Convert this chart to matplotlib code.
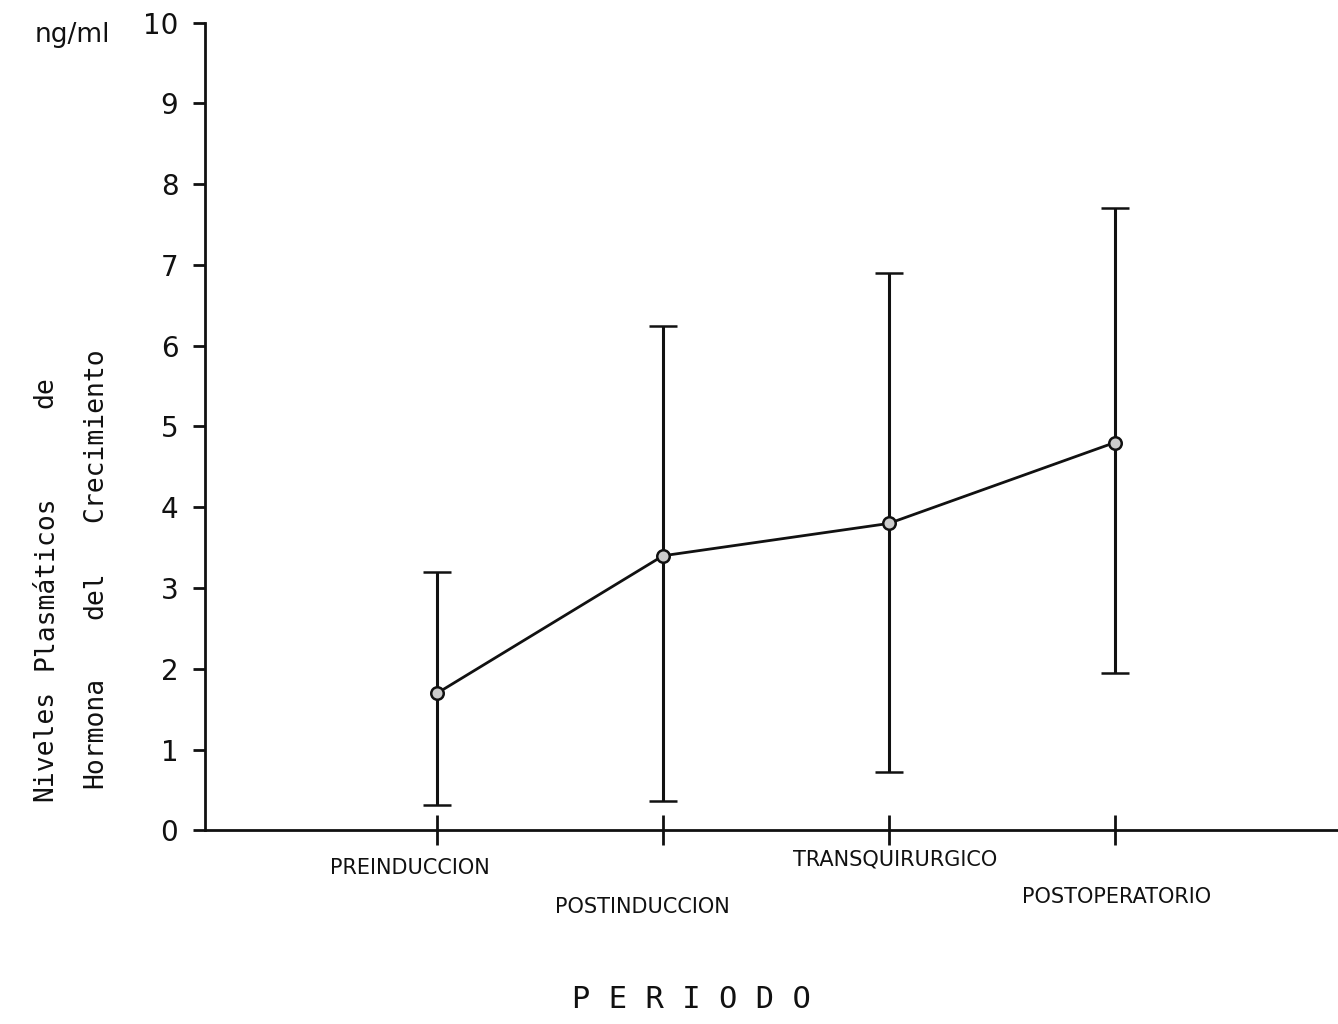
import matplotlib
matplotlib.use('Agg')
import matplotlib.pyplot as plt
import matplotlib.transforms as mtransforms

# ==============================================================================

periods = ["PREINDUCCION", "POSTINDUCCION", "TRANSQUIRURGICO", "POSTOPERATORIO"]
x_pos = [1, 2, 3, 4]
means = [1.7, 3.4, 3.8, 4.8]
upper = [3.2, 6.25, 6.9, 7.7]
lower = [0.32, 0.36, 0.72, 1.95]
y_ticks = [0, 1, 2, 3, 4, 5, 6, 7, 8, 9, 10]

ink = '#111111'

fig = plt.figure(figsize=(13.38, 10.24), dpi=100)
ax = fig.add_axes([0.153, 0.189, 0.847, 0.789])

err_lo = [m - l for m, l in zip(means, lower)]
err_hi = [u - m for m, u in zip(means, upper)]
ax.errorbar(x_pos, means, yerr=[err_lo, err_hi], color=ink, lw=2,
            elinewidth=2.2, capsize=10, capthick=2.2,
            marker='o', ms=9, mfc='#cccccc', mec=ink, mew=1.8)

ax.set_xlim(-0.03, 4.99)
ax.set_ylim(0, 10)

for side in ['top', 'right']:
    ax.spines[side].set_visible(False)
for side in ['left', 'bottom']:
    ax.spines[side].set_color(ink)
    ax.spines[side].set_linewidth(2)

ax.set_yticks(y_ticks)
ax.set_yticklabels([str(t) for t in y_ticks])
ax.tick_params(axis='y', direction='out', length=9, width=2, colors=ink,
               labelsize=20, pad=10)
ax.set_xticks(x_pos)
ax.set_xticklabels([])
ax.tick_params(axis='x', direction='inout', length=22, width=2, colors=ink)

# staggered period labels
trans = mtransforms.blended_transform_factory(ax.transData, fig.transFigure)
label_y = [1 - 868 / 1024, 1 - 907 / 1024, 1 - 860 / 1024, 1 - 897 / 1024]
label_dx = [-0.12, -0.09, 0.03, 0.01]
for x, name, y, dx in zip(x_pos, periods, label_y, label_dx):
    ax.text(x + dx, y, name, transform=trans, ha='center', va='center',
            fontsize=15, color=ink)

fig.text(0.517, 1 - 1000 / 1024, "P E R I O D O", ha='center', va='center',
         fontsize=22, color=ink, family='DejaVu Sans Mono')
fig.text(0.026, 1 - 35 / 1024, "ng/ml", ha='left', va='center',
         fontsize=19, color=ink)

# rotated y label, word by word (two lines)
ylab_words = [("Niveles", 0.034, 745), ("Plasmáticos", 0.034, 583),
              ("de", 0.034, 392), ("Hormona", 0.071, 732),
              ("del", 0.071, 595), ("Crecimiento", 0.071, 435)]
for word, fx, py in ylab_words:
    fig.text(fx, 1 - py / 1024, word, rotation=90, ha='center', va='center',
             fontsize=19, color=ink, family='DejaVu Sans Mono')

fig.savefig('out.png', dpi=100)
